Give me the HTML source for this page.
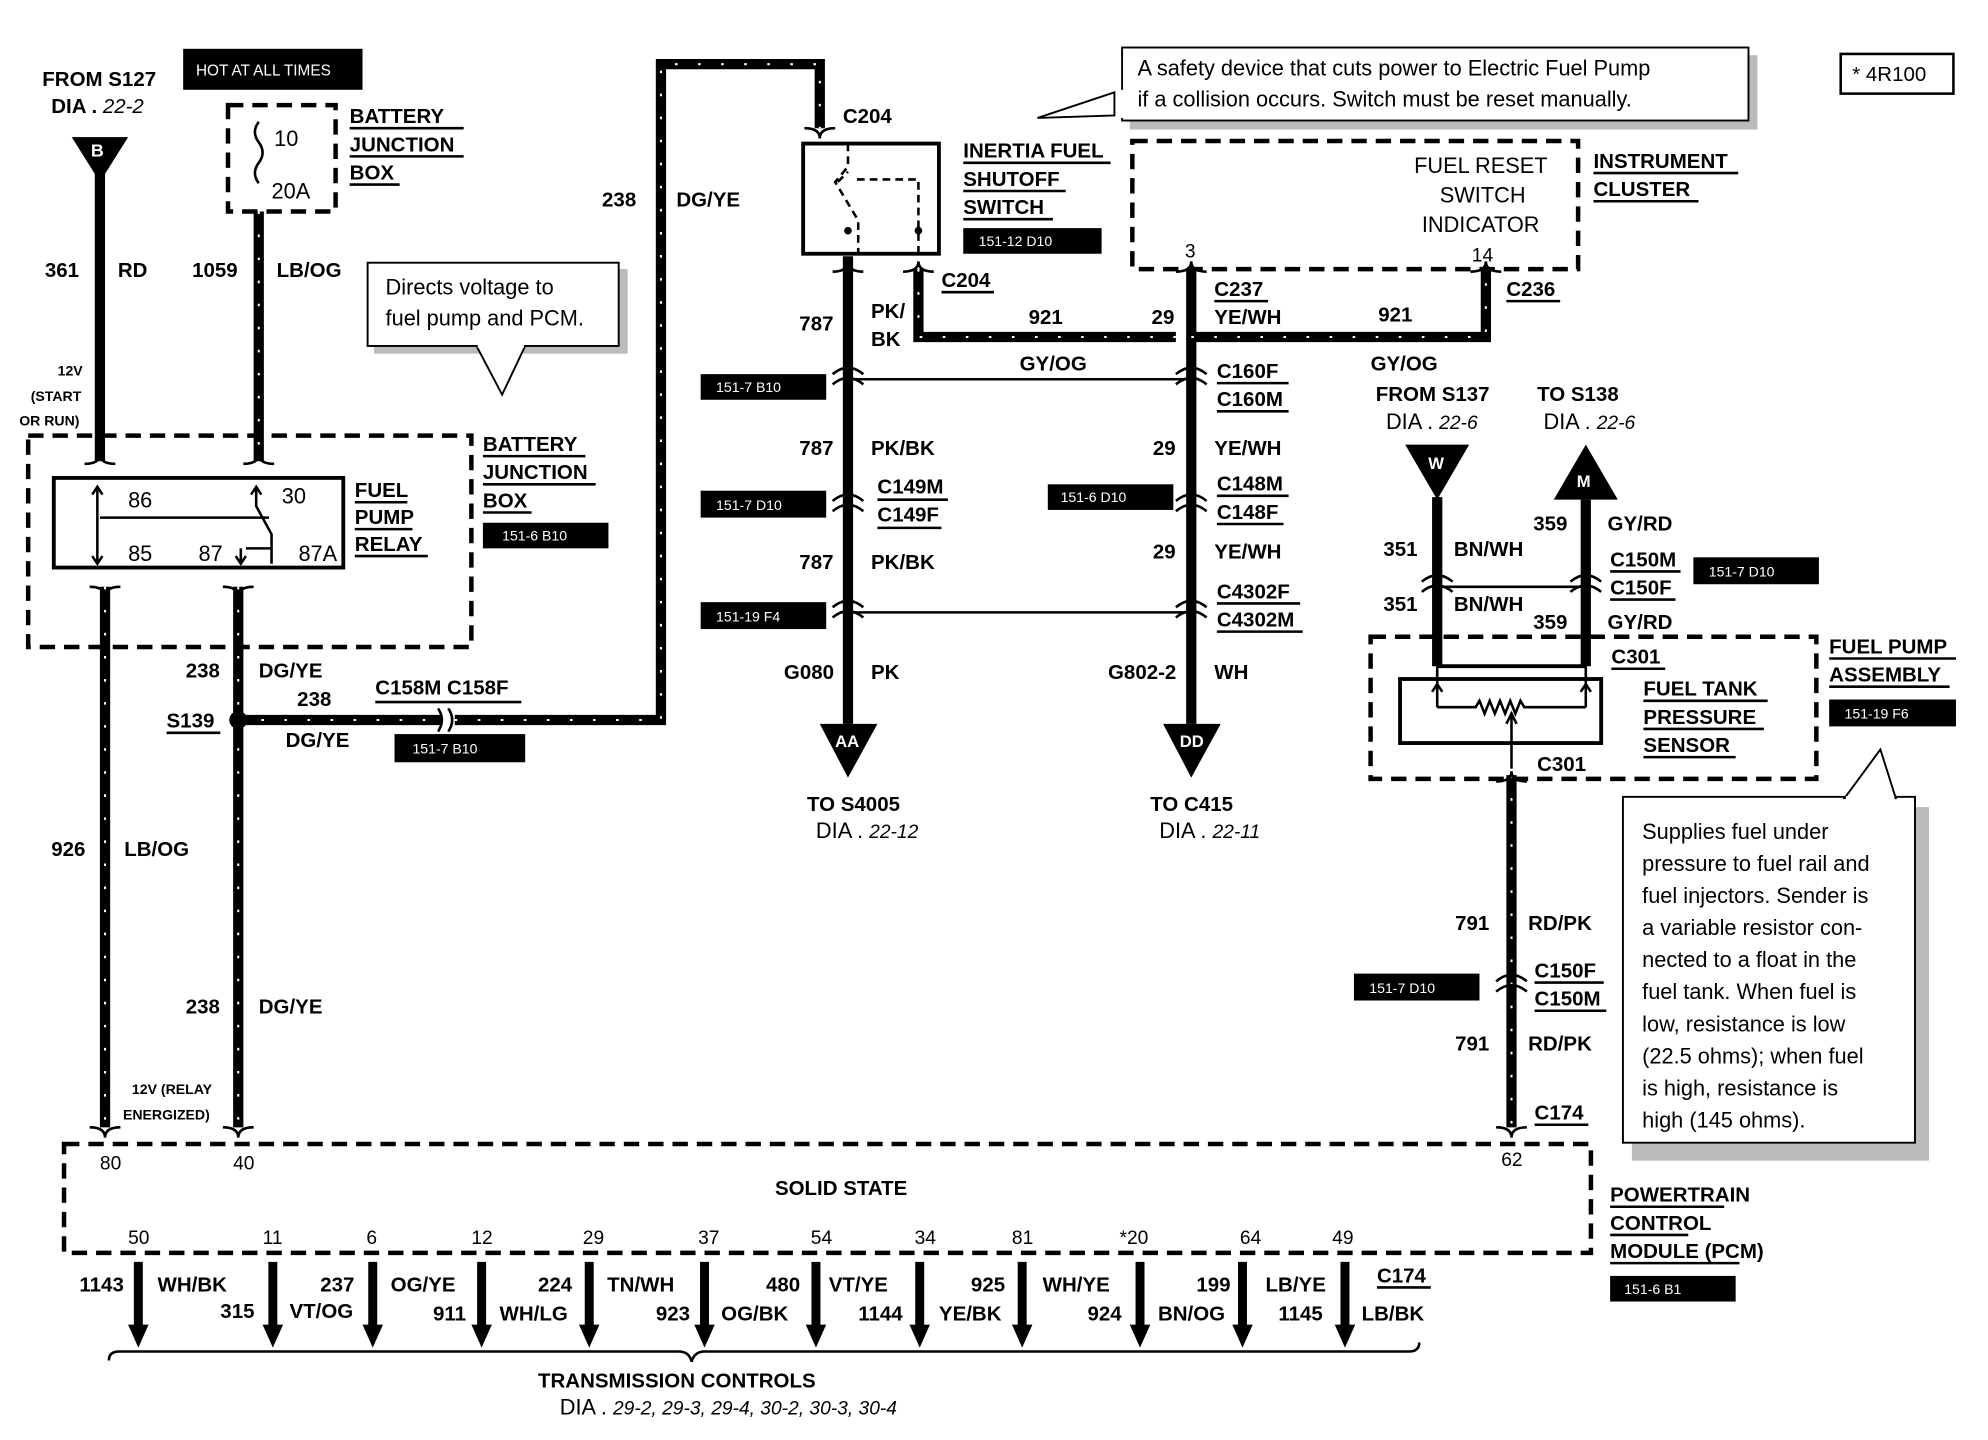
<!DOCTYPE html>
<html><head><meta charset="utf-8">
<style>
html,body{margin:0;padding:0;background:#fff;}
svg{display:block;}
text{font-family:"Liberation Sans",Arial,sans-serif;font-weight:bold;font-size:16px;fill:#000;}
.n{font-weight:normal;font-size:17px;}
.t{font-weight:normal;font-size:11px;fill:#fff;}
.s{font-size:11px;}
.i{font-style:italic;font-weight:normal;}
.w{fill:none;stroke:#000;stroke-width:8;}
.wd{fill:none;stroke:#fff;stroke-width:1.6;stroke-dasharray:2 16;}
.d{fill:none;stroke:#000;stroke-width:3.5;stroke-dasharray:12 7;}
.th{fill:none;stroke:#000;stroke-width:2;}
.u{stroke:#000;stroke-width:2;}
</style></head>
<body>
<svg width="1988" height="1440" viewBox="0 0 1552 1124" xmlns="http://www.w3.org/2000/svg">
<defs>
<path id="w1" d="M78 135V360"/>
<path id="w2" d="M202 165V360"/>
<path id="w3" d="M82 458V880"/>
<path id="w4" d="M186 458V880"/>
<path id="w5" d="M186 562H345M355 562H516V50H640V100"/>
<path id="w6" d="M662 200V565"/>
<path id="w7" d="M717 210V263H918"/>
<path id="w8" d="M930 210V565"/>
<path id="w9" d="M930 263H1160V210"/>
<path id="w10" d="M1122 388V520"/>
<path id="w11" d="M1238 390V520"/>
<path id="w12" d="M1180 605V880"/>
</defs>
<g class="w"><use href="#w1"/><use href="#w2"/><use href="#w3"/><use href="#w4"/><use href="#w5"/><use href="#w6"/><use href="#w7"/><use href="#w8"/><use href="#w9"/><use href="#w10"/><use href="#w11"/><use href="#w12"/></g>
<g class="wd"><use href="#w2"/><use href="#w3"/><use href="#w4"/><use href="#w5"/><use href="#w7"/><use href="#w9"/><use href="#w12"/></g>

<!-- top left -->
<text x="33" y="67">FROM S127</text>
<text x="40" y="88">DIA . <tspan class="i">22-2</tspan></text>
<polygon points="56,107 100,107 78,142" fill="#000"/>
<text x="71" y="122" class="s" style="fill:#fff;font-size:14px">B</text>
<rect x="143" y="38" width="140" height="32" fill="#000"/>
<text x="153" y="59" class="t" style="font-size:12px">HOT AT ALL TIMES</text>
<rect x="178" y="82" width="84" height="83" class="d"/>
<text x="214" y="114" class="n">10</text>
<text x="212" y="155" class="n">20A</text>
<path d="M202 95q-6 8 0 16q6 8 0 16q-6 8 0 16" class="th"/>
<text x="273" y="96">BATTERY</text><line x1="273" y1="100" x2="362" y2="100" class="u"/>
<text x="273" y="118">JUNCTION</text><line x1="273" y1="122" x2="362" y2="122" class="u"/>
<text x="273" y="140">BOX</text><line x1="273" y1="144" x2="312" y2="144" class="u"/>
<text x="35" y="216">361</text><text x="92" y="216">RD</text>
<text x="150" y="216">1059</text><text x="216" y="216">LB/OG</text>
<text x="470" y="161">238</text><text x="528" y="161">DG/YE</text>
<rect x="292" y="210" width="198" height="66" fill="#bbb"/>
<rect x="287" y="205" width="196" height="65" fill="#fff" stroke="#000" stroke-width="1.5"/>
<polygon points="372,270 392,308 410,270" fill="#fff" stroke="#000" stroke-width="1.5"/>
<line x1="373" y1="270" x2="409" y2="270" stroke="#fff" stroke-width="3"/>
<text x="301" y="230" class="n">Directs voltage to</text>
<text x="301" y="254" class="n">fuel pump and PCM.</text>
<text x="45" y="293" class="s">12V</text>
<text x="24" y="313" class="s">(START</text>
<text x="15" y="332" class="s">OR RUN)</text>

<!-- relay -->
<rect x="22" y="340" width="346" height="165" class="d"/>
<rect x="42" y="373" width="226" height="70" fill="none" stroke="#000" stroke-width="3"/>
<path d="M66 362q12 0 12 -8q0 8 12 8M190 362q12 0 12 -8q0 8 12 8M70 458q12 0 12 8q0-8 12-8M174 458q12 0 12 8q0-8 12-8" class="th"/>
<text x="100" y="396" class="n">86</text><text x="220" y="393" class="n">30</text>
<text x="100" y="438" class="n">85</text><text x="155" y="438" class="n">87</text><text x="233" y="438" class="n">87A</text>
<path d="M76 380V440M72 386l4-6 4 6M72 434l4 6 4-6M200 380V395l12 22V440M196 386l4-6 4 6M78 404H210M188 428v12M184 434l4 6 4-6M192 428h20" class="th"/>
<text x="277" y="388">FUEL</text><line x1="277" y1="392" x2="318" y2="392" class="u"/>
<text x="277" y="409">PUMP</text><line x1="277" y1="413" x2="322" y2="413" class="u"/>
<text x="277" y="430">RELAY</text><line x1="277" y1="434" x2="334" y2="434" class="u"/>
<text x="377" y="352">BATTERY</text><line x1="377" y1="356" x2="457" y2="356" class="u"/>
<text x="377" y="374">JUNCTION</text><line x1="377" y1="378" x2="465" y2="378" class="u"/>
<text x="377" y="396">BOX</text><line x1="377" y1="400" x2="415" y2="400" class="u"/>
<rect x="377" y="408" width="98" height="20" fill="#000"/><text x="392" y="422" class="t">151-6 B10</text>

<text x="145" y="529">238</text><text x="202" y="529">DG/YE</text>
<text x="232" y="551">238</text>
<text x="223" y="583">DG/YE</text>
<text x="130" y="568">S139</text><line x1="130" y1="572" x2="172" y2="572" class="u"/>
<circle cx="186" cy="562" r="7" fill="#000"/>
<text x="293" y="542">C158M C158F</text><line x1="293" y1="548" x2="407" y2="548" class="u"/>
<path d="M342 553q6 9 0 18M350 553q6 9 0 18" class="th"/>
<rect x="308" y="573" width="102" height="22" fill="#000"/><text x="322" y="588" class="t">151-7 B10</text>
<text x="40" y="668">926</text><text x="97" y="668">LB/OG</text>
<text x="145" y="791">238</text><text x="202" y="791">DG/YE</text>
<text x="103" y="854" class="s">12V (RELAY</text>
<text x="96" y="874" class="s">ENERGIZED)</text>

<!-- PCM -->
<rect x="50" y="893" width="1192" height="85" class="d"/>
<path d="M70 880q12 0 12 8q0-8 12-8M174 880q12 0 12 8q0-8 12-8M1168 880q12 0 12 8q0-8 12-8" class="th"/>
<text x="78" y="913" class="n" style="font-size:15px">80</text><text x="182" y="913" class="n" style="font-size:15px">40</text><text x="1172" y="910" class="n" style="font-size:15px">62</text>
<text x="605" y="933">SOLID STATE</text>
<text x="1257" y="938">POWERTRAIN</text><line x1="1257" y1="942" x2="1346" y2="942" class="u"/>
<text x="1257" y="960">CONTROL</text><line x1="1257" y1="964" x2="1318" y2="964" class="u"/>
<text x="1257" y="982">MODULE (PCM)</text><line x1="1257" y1="986" x2="1358" y2="986" class="u"/>
<rect x="1257" y="996" width="98" height="20" fill="#000"/><text x="1268" y="1010" class="t">151-6 B1</text>
<g>
<text x="100" y="971" class="n" style="font-size:15px">50</text><text x="205" y="971" class="n" style="font-size:15px">11</text><text x="286" y="971" class="n" style="font-size:15px">6</text><text x="368" y="971" class="n" style="font-size:15px">12</text><text x="455" y="971" class="n" style="font-size:15px">29</text><text x="545" y="971" class="n" style="font-size:15px">37</text><text x="633" y="971" class="n" style="font-size:15px">54</text><text x="714" y="971" class="n" style="font-size:15px">34</text><text x="790" y="971" class="n" style="font-size:15px">81</text><text x="874" y="971" class="n" style="font-size:15px">*20</text><text x="968" y="971" class="n" style="font-size:15px">64</text><text x="1040" y="971" class="n" style="font-size:15px">49</text>
</g>
<g stroke="#000" stroke-width="7" fill="none">
<path d="M108 985V1040M213 985V1040M291 985V1040M376 985V1040M460 985V1040M550 985V1040M637 985V1040M718 985V1040M798 985V1040M890 985V1040M970 985V1040M1050 985V1040"/>
</g>
<g fill="#000">
<polygon points="100,1034 116,1034 108,1052"/><polygon points="205,1034 221,1034 213,1052"/><polygon points="283,1034 299,1034 291,1052"/><polygon points="368,1034 384,1034 376,1052"/><polygon points="452,1034 468,1034 460,1052"/><polygon points="542,1034 558,1034 550,1052"/><polygon points="629,1034 645,1034 637,1052"/><polygon points="710,1034 726,1034 718,1052"/><polygon points="790,1034 806,1034 798,1052"/><polygon points="882,1034 898,1034 890,1052"/><polygon points="962,1034 978,1034 970,1052"/><polygon points="1042,1034 1058,1034 1050,1052"/>
</g>
<text x="62" y="1008">1143</text><text x="123" y="1008">WH/BK</text>
<text x="172" y="1029">315</text><text x="226" y="1029">VT/OG</text>
<text x="250" y="1008">237</text><text x="305" y="1008">OG/YE</text>
<text x="338" y="1031">911</text><text x="390" y="1031">WH/LG</text>
<text x="420" y="1008">224</text><text x="474" y="1008">TN/WH</text>
<text x="512" y="1031">923</text><text x="563" y="1031">OG/BK</text>
<text x="598" y="1008">480</text><text x="647" y="1008">VT/YE</text>
<text x="670" y="1031">1144</text><text x="733" y="1031">YE/BK</text>
<text x="758" y="1008">925</text><text x="814" y="1008">WH/YE</text>
<text x="849" y="1031">924</text><text x="904" y="1031">BN/OG</text>
<text x="934" y="1008">199</text><text x="988" y="1008">LB/YE</text>
<text x="998" y="1031">1145</text><text x="1063" y="1031">LB/BK</text>
<text x="1075" y="1001">C174</text><line x1="1075" y1="1005" x2="1117" y2="1005" class="u"/>
<path d="M85 1062q0-7 8-7H530q8 0 10 8q2-8 10-8H1100q8 0 8 -7" class="th"/>
<text x="420" y="1083">TRANSMISSION CONTROLS</text>
<text x="437" y="1104" class="n">DIA . <tspan class="i" style="font-size:15px">29-2, 29-3, 29-4, 30-2, 30-3, 30-4</tspan></text>

<!-- inertia switch -->
<text x="658" y="96">C204</text>
<path d="M628 100q12 0 12 8q0-8 12-8" class="th"/>
<rect x="627" y="112" width="106" height="86" fill="none" stroke="#000" stroke-width="3"/>
<path d="M662 112V130l-10 12 18 30V200M717 198V140H665M654 142l8-8" class="th" stroke-dasharray="6 4"/>
<circle cx="662" cy="180" r="3"/><circle cx="717" cy="180" r="3"/>
<text x="752" y="123">INERTIA FUEL</text><line x1="752" y1="127" x2="867" y2="127" class="u"/>
<text x="752" y="145">SHUTOFF</text><line x1="752" y1="149" x2="832" y2="149" class="u"/>
<text x="752" y="167">SWITCH</text><line x1="752" y1="171" x2="822" y2="171" class="u"/>
<rect x="752" y="178" width="108" height="20" fill="#000"/><text x="764" y="192" class="t">151-12 D10</text>
<path d="M650 212q12 0 12-8q0 8 12 8M705 212q12 0 12-8q0 8 12 8" class="th"/>
<text x="735" y="224">C204</text><line x1="735" y1="228" x2="776" y2="228" class="u"/>
<text x="624" y="258">787</text><text x="680" y="248">PK/</text><text x="680" y="270">BK</text>
<text x="803" y="253">921</text><text x="899" y="253">29</text>
<!-- callout -->
<rect x="882" y="43" width="490" height="58" fill="#bbb"/>
<rect x="876" y="37" width="489" height="57" fill="#fff" stroke="#000" stroke-width="1.5"/>
<polygon points="810,92 870,72 870,90" fill="#fff" stroke="#000" stroke-width="1.5"/>
<line x1="877" y1="70" x2="877" y2="92" stroke="#fff" stroke-width="4"/>
<text x="888" y="59" class="n">A safety device that cuts power to  Electric Fuel Pump</text>
<text x="888" y="83" class="n">if a collision occurs. Switch must be reset manually.</text>
<rect x="1437" y="42" width="88" height="31" fill="none" stroke="#000" stroke-width="2"/>
<text x="1446" y="63" class="n" style="font-size:16px">* 4R100</text>
<!-- cluster -->
<rect x="884" y="110" width="348" height="100" class="d"/>
<text x="1104" y="135" class="n">FUEL RESET</text>
<text x="1124" y="158" class="n">SWITCH</text>
<text x="1110" y="181" class="n">INDICATOR</text>
<text x="925" y="201" class="n" style="font-size:15px">3</text><text x="1149" y="204" class="n" style="font-size:15px">14</text>
<text x="1244" y="131">INSTRUMENT</text><line x1="1244" y1="135" x2="1357" y2="135" class="u"/>
<text x="1244" y="153">CLUSTER</text><line x1="1244" y1="157" x2="1326" y2="157" class="u"/>
<path d="M918 212q12 0 12-8q0 8 12 8M1148 212q12 0 12-8q0 8 12 8" class="th"/>
<text x="948" y="231">C237</text><line x1="948" y1="235" x2="990" y2="235" class="u"/>
<text x="948" y="253">YE/WH</text>
<text x="1076" y="251">921</text>
<text x="1176" y="231">C236</text><line x1="1176" y1="235" x2="1218" y2="235" class="u"/>
<text x="796" y="289">GY/OG</text>
<path d="M662 296H930M662 478H930" class="th"/>
<g class="th"><path d="M650 300q12-10 24 0M650 292q12-10 24 0M650 399q12-10 24 0M650 391q12-10 24 0M650 482q12-10 24 0M650 474q12-10 24 0M918 300q12-10 24 0M918 292q12-10 24 0M918 399q12-10 24 0M918 391q12-10 24 0M918 482q12-10 24 0M918 474q12-10 24 0"/></g>
<rect x="547" y="292" width="98" height="20" fill="#000"/><text x="559" y="306" class="t">151-7 B10</text>
<rect x="547" y="383" width="98" height="21" fill="#000"/><text x="559" y="398" class="t">151-7 D10</text>
<rect x="547" y="470" width="98" height="21" fill="#000"/><text x="559" y="485" class="t">151-19 F4</text>
<text x="624" y="355">787</text><text x="680" y="355">PK/BK</text>
<text x="685" y="385">C149M</text><line x1="685" y1="390" x2="740" y2="390" class="u"/>
<text x="685" y="407">C149F</text><line x1="685" y1="412" x2="735" y2="412" class="u"/>
<text x="624" y="444">787</text><text x="680" y="444">PK/BK</text>
<text x="612" y="530">G080</text><text x="680" y="530">PK</text>
<polygon points="640,565 685,565 662,607" fill="#000"/>
<text x="652" y="583" style="fill:#fff;font-size:13px">AA</text>
<text x="630" y="633">TO S4005</text>
<text x="637" y="654" class="n">DIA . <tspan class="i" style="font-size:15px">22-12</tspan></text>

<text x="950" y="295">C160F</text><line x1="950" y1="299" x2="1006" y2="299" class="u"/>
<text x="950" y="317">C160M</text><line x1="950" y1="321" x2="1006" y2="321" class="u"/>
<text x="900" y="355">29</text><text x="948" y="355">YE/WH</text>
<rect x="818" y="378" width="98" height="20" fill="#000"/><text x="828" y="392" class="t">151-6 D10</text>
<text x="950" y="383">C148M</text><line x1="950" y1="387" x2="1006" y2="387" class="u"/>
<text x="950" y="405">C148F</text><line x1="950" y1="409" x2="1002" y2="409" class="u"/>
<text x="900" y="436">29</text><text x="948" y="436">YE/WH</text>
<text x="950" y="467">C4302F</text><line x1="950" y1="471" x2="1015" y2="471" class="u"/>
<text x="950" y="489">C4302M</text><line x1="950" y1="493" x2="1017" y2="493" class="u"/>
<text x="865" y="530">G802-2</text><text x="948" y="530">WH</text>
<polygon points="908,565 953,565 930,607" fill="#000"/>
<text x="921" y="583" style="fill:#fff;font-size:13px">DD</text>
<text x="898" y="633">TO C415</text>
<text x="905" y="654" class="n">DIA . <tspan class="i" style="font-size:15px">22-11</tspan></text>

<!-- right -->
<text x="1070" y="289">GY/OG</text>
<text x="1074" y="313">FROM S137</text><text x="1200" y="313">TO S138</text>
<text x="1082" y="335" class="n">DIA . <tspan class="i" style="font-size:15px">22-6</tspan></text>
<text x="1205" y="335" class="n">DIA . <tspan class="i" style="font-size:15px">22-6</tspan></text>
<polygon points="1097,347 1147,347 1122,390" fill="#000"/>
<text x="1115" y="366" style="fill:#fff;font-size:13px">W</text>
<polygon points="1213,390 1263,390 1238,347" fill="#000"/>
<text x="1231" y="380" style="fill:#fff;font-size:13px">M</text>
<text x="1197" y="414">359</text><text x="1255" y="414">GY/RD</text>
<text x="1080" y="434">351</text><text x="1135" y="434">BN/WH</text>
<text x="1257" y="442">C150M</text><line x1="1257" y1="446" x2="1312" y2="446" class="u"/>
<text x="1257" y="464">C150F</text><line x1="1257" y1="468" x2="1308" y2="468" class="u"/>
<rect x="1322" y="435" width="98" height="21" fill="#000"/><text x="1334" y="450" class="t">151-7 D10</text>
<path d="M1122 458H1238" class="th"/>
<g class="th"><path d="M1110 462q12-10 24 0M1110 454q12-10 24 0M1226 462q12-10 24 0M1226 454q12-10 24 0"/></g>
<text x="1080" y="477">351</text><text x="1135" y="477">BN/WH</text>
<text x="1197" y="491">359</text><text x="1255" y="491">GY/RD</text>
<path d="M1122 520H1238" stroke="#000" stroke-width="3"/>
<text x="1258" y="518">C301</text><line x1="1258" y1="522" x2="1300" y2="522" class="u"/>
<rect x="1070" y="497" width="348" height="111" class="d"/>
<rect x="1093" y="530" width="157" height="50" fill="none" stroke="#000" stroke-width="3"/>
<path d="M1122 520V552M1238 520V552M1118 540l4-6 4 6M1234 540l4-6 4 6M1122 552H1152l3-5 4 10 4-10 4 10 4-10 4 10 4-10 4 10 4-10 3 5H1238M1180 556V580M1176 565l4-8 4 8M1180 580V600" class="th"/>
<text x="1283" y="543">FUEL TANK</text><line x1="1283" y1="547" x2="1380" y2="547" class="u"/>
<text x="1283" y="565">PRESSURE</text><line x1="1283" y1="569" x2="1377" y2="569" class="u"/>
<text x="1283" y="587">SENSOR</text><line x1="1283" y1="591" x2="1355" y2="591" class="u"/>
<text x="1428" y="510">FUEL PUMP</text><line x1="1428" y1="514" x2="1527" y2="514" class="u"/>
<text x="1428" y="532">ASSEMBLY</text><line x1="1428" y1="536" x2="1522" y2="536" class="u"/>
<rect x="1428" y="546" width="99" height="21" fill="#000"/><text x="1440" y="561" class="t">151-19 F6</text>
<text x="1200" y="602">C301</text>
<path d="M1168 610q12 0 12-8q0 8 12 8" class="th"/>
<text x="1136" y="726">791</text><text x="1193" y="726">RD/PK</text>
<text x="1198" y="763">C150F</text><line x1="1198" y1="767" x2="1252" y2="767" class="u"/>
<text x="1198" y="785">C150M</text><line x1="1198" y1="789" x2="1254" y2="789" class="u"/>
<rect x="1057" y="760" width="98" height="21" fill="#000"/><text x="1069" y="775" class="t">151-7 D10</text>
<g class="th"><path d="M1168 774q12-10 24 0M1168 766q12-10 24 0"/></g>
<text x="1136" y="820">791</text><text x="1193" y="820">RD/PK</text>
<text x="1198" y="874">C174</text><line x1="1198" y1="878" x2="1240" y2="878" class="u"/>
<!-- right callout -->
<rect x="1274" y="630" width="232" height="276" fill="#bbb"/>
<rect x="1267" y="622" width="228" height="270" fill="#fff" stroke="#000" stroke-width="1.5"/>
<polygon points="1440,623 1468,585 1480,623" fill="#fff" stroke="#000" stroke-width="1.5"/>
<line x1="1441" y1="623" x2="1479" y2="623" stroke="#fff" stroke-width="3"/>
<g class="n">
<text x="1282" y="655" class="n">Supplies fuel under</text>
<text x="1282" y="680" class="n">pressure to fuel rail and</text>
<text x="1282" y="705" class="n">fuel injectors. Sender is</text>
<text x="1282" y="730" class="n">a variable resistor con-</text>
<text x="1282" y="755" class="n">nected to a float in the</text>
<text x="1282" y="780" class="n">fuel tank. When fuel is</text>
<text x="1282" y="805" class="n">low, resistance is low</text>
<text x="1282" y="830" class="n">(22.5 ohms); when fuel</text>
<text x="1282" y="855" class="n">is high, resistance is</text>
<text x="1282" y="880" class="n">high (145 ohms).</text>
</g>
</svg>
</body></html>
